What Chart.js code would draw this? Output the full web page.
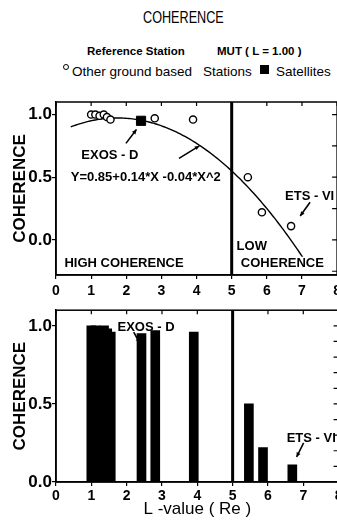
<!DOCTYPE html>
<html>
<head>
<meta charset="utf-8">
<title>Coherence</title>
<script src="https://cdn.jsdelivr.net/npm/chart.js@4.4.1/dist/chart.umd.min.js"></script>
<style>
  html, body { margin: 0; padding: 0; background: #fff; }
  body {
    position: relative; width: 337px; height: 522px; overflow: hidden;
    font-family: 'Liberation Sans', Arial, Helvetica, sans-serif; color: #000;
  }
  .txt { position: absolute; white-space: nowrap; line-height: 1; }
  #title { left: 143px; top: 10px; font-size: 16px; transform: scaleX(0.79); transform-origin: left top; }
  .ref { top: 46px; font-size: 11.5px; font-weight: bold; }
  .key { top: 65px; font-size: 13.5px; }
  .dot { position: absolute; left: 63px; top: 64px; width: 4px; height: 4px; border: 1.3px solid #000; border-radius: 50%; }
  .box { position: absolute; left: 260px; top: 65px; width: 9px; height: 9px; background: #000; }
  canvas { position: absolute; left: 0; }
  #topChart { top: 0; }
  #bottomChart { top: 300px; }
</style>
</head>
<body>
<div class="txt" id="title">COHERENCE</div>
<div class="txt ref" style="left:87px">Reference Station</div>
<div class="txt ref" style="left:217px">MUT ( L = 1.00 )</div>
<span class="dot"></span>
<div class="txt key" style="left:72px">Other ground based</div>
<div class="txt key" style="left:203px">Stations</div>
<span class="box"></span>
<div class="txt key" style="left:276px">Satellites</div>

<canvas id="topChart" width="345" height="300"></canvas>
<canvas id="bottomChart" width="345" height="222"></canvas>

<script>
// ground stations: L-value and coherence with MUT (L = 1.00)
const GROUND_L = [1.00, 1.12, 1.24, 1.36, 1.45, 1.55, 2.81, 3.90, 5.46, 5.86, 6.69];
const GROUND_COH = [1.00, 1.00, 0.99, 1.00, 0.98, 0.96, 0.97, 0.96, 0.50, 0.22, 0.11];

// satellite (EXOS-D)
const SAT_L = [2.42];
const SAT_COH = [0.95];

// printed quadratic fit: Y = 0.85 + 0.14*X - 0.04*X^2
const FIT_COEFFS = [0.85, 0.14, -0.04];
const FIT_RANGE = [0.42, 7.25];

// high / low coherence boundary
const BOUNDARY_L = 5;

const X_TICKS = [0, 1, 2, 3, 4, 5, 6, 7, 8];
const Y_TICKS = [0, 0.5, 1.0];
const TOP_RIGHT_TICKS = [-0.25, 0, 0.25, 0.5, 0.75, 1.0];
const BOTTOM_RIGHT_TICKS = [0.1, 0.2, 0.3, 0.4, 0.5, 0.6, 0.7, 0.8, 0.9, 1.0];

const FAMILY = "'Liberation Sans', Arial, Helvetica, sans-serif";
const NOTE_FONT = `bold 13px ${FAMILY}`;

const fitPoints = [];
for (let i = 0; ; i++) {
  const x = FIT_RANGE[0] + i * 0.05;
  if (x > FIT_RANGE[1]) break;
  fitPoints.push({ x, y: FIT_COEFFS[0] + FIT_COEFFS[1] * x + FIT_COEFFS[2] * x * x });
}

const groundPoints = GROUND_L.map((x, i) => ({ x, y: GROUND_COH[i] }));
const satPoints = SAT_L.map((x, i) => ({ x, y: SAT_COH[i] }));

// box round the plot area, with short inward ticks on the top and right edges
const framePlugin = {
  id: 'frame',
  afterDraw(chart, args, opts) {
    const { ctx, chartArea: a, scales: { x, y } } = chart;
    ctx.save();
    ctx.strokeStyle = '#000';
    ctx.lineWidth = 1.5;
    ctx.strokeRect(a.left, a.top, a.right - a.left, a.bottom - a.top);
    ctx.lineWidth = 1.2;
    ctx.beginPath();
    for (const v of X_TICKS) {
      const px = x.getPixelForValue(v);
      ctx.moveTo(px, a.top);
      ctx.lineTo(px, a.top + 4);
    }
    for (const v of opts.rightTicks || []) {
      const py = y.getPixelForValue(v);
      ctx.moveTo(a.right, py);
      ctx.lineTo(a.right - 5, py);
    }
    ctx.stroke();
    ctx.restore();
  },
};

// free text and arrows, placed in data coordinates
const notesPlugin = {
  id: 'notes',
  afterDatasetsDraw(chart, args, opts) {
    const { ctx, scales: { x, y } } = chart;
    ctx.save();
    ctx.fillStyle = '#000';
    ctx.strokeStyle = '#000';
    ctx.font = NOTE_FONT;
    ctx.textBaseline = 'middle';
    ctx.textAlign = 'left';
    for (const t of opts.texts || []) {
      const px = x.getPixelForValue(t.at[0]);
      const py = y.getPixelForValue(t.at[1]);
      if (t.knockout) {
        // white patch so the fit line runs under the label
        ctx.fillStyle = '#fff';
        ctx.fillRect(px - 1, py - 7, ctx.measureText(t.text).width + 2, 14);
        ctx.fillStyle = '#000';
      }
      ctx.fillText(t.text, px, py);
    }
    ctx.lineWidth = 1.6;
    for (const ar of opts.arrows || []) {
      const x0 = x.getPixelForValue(ar.from[0]), y0 = y.getPixelForValue(ar.from[1]);
      const x1 = x.getPixelForValue(ar.to[0]), y1 = y.getPixelForValue(ar.to[1]);
      const ang = Math.atan2(y1 - y0, x1 - x0);
      ctx.beginPath();
      ctx.moveTo(x0, y0);
      ctx.lineTo(x1, y1);
      ctx.stroke();
      ctx.beginPath();
      ctx.moveTo(x1, y1);
      ctx.lineTo(x1 - 5 * Math.cos(ang - 0.45), y1 - 5 * Math.sin(ang - 0.45));
      ctx.lineTo(x1 - 5 * Math.cos(ang + 0.45), y1 - 5 * Math.sin(ang + 0.45));
      ctx.closePath();
      ctx.fill();
    }
    ctx.restore();
  },
};

function xScale(height, title) {
  return {
    type: 'linear',
    min: 0,
    max: 8,
    offset: false,
    afterBuildTicks: (s) => { s.ticks = X_TICKS.map((value) => ({ value })); },
    afterFit: (s) => { s.height = height; },
    grid: { offset: false, drawOnChartArea: false, tickLength: 4, color: '#000', lineWidth: 1.2 },
    border: { color: '#000', width: 1.5 },
    ticks: {
      color: '#000',
      padding: title ? 2 : 4,
      maxRotation: 0,
      font: { family: FAMILY, size: 14, weight: 'bold' },
      callback: (v) => String(v),
    },
    title: title
      ? { display: true, text: title, color: '#000', padding: { top: 0, bottom: 2 },
          font: { family: FAMILY, size: 17 } }
      : { display: false },
  };
}

function yScale(min, max) {
  return {
    min,
    max,
    afterBuildTicks: (s) => { s.ticks = Y_TICKS.map((value) => ({ value })); },
    afterFit: (s) => { s.width = 56; },
    grid: { drawOnChartArea: false, tickLength: 4, color: '#000', lineWidth: 1.2 },
    border: { color: '#000', width: 1.5 },
    ticks: {
      color: '#000',
      padding: 0,
      font: { family: FAMILY, size: 17, weight: 'bold' },
      callback: (v) => v.toFixed(1),
    },
    title: {
      display: true,
      text: 'COHERENCE',
      color: '#000',
      padding: { top: 10, bottom: 0 },
      font: { family: FAMILY, size: 17, weight: 'bold' },
    },
  };
}

const common = {
  responsive: false,
  animation: false,
  events: [],
};

new Chart(document.getElementById('topChart'), {
  type: 'scatter',
  data: {
    datasets: [
      {
        label: 'Other ground based Stations',
        data: groundPoints,
        pointStyle: 'circle',
        pointRadius: 3.6,
        pointBorderWidth: 1.4,
        pointBackgroundColor: '#fff',
        pointBorderColor: '#000',
      },
      {
        label: 'Satellites',
        data: satPoints,
        pointStyle: 'rect',
        pointRadius: 6.5,
        pointBackgroundColor: '#000',
        pointBorderColor: '#000',
      },
      {
        label: 'Fit',
        data: fitPoints,
        showLine: true,
        borderColor: '#000',
        borderWidth: 1.4,
        pointRadius: 0,
      },
      {
        label: 'Boundary',
        data: [{ x: BOUNDARY_L, y: -0.28 }, { x: BOUNDARY_L, y: 1.1 }],
        showLine: true,
        borderColor: '#000',
        borderWidth: 3,
        pointRadius: 0,
      },
    ],
  },
  options: {
    ...common,
    layout: { padding: { top: 102, right: 6.4, bottom: 0, left: 0 } },
    plugins: {
      legend: { display: false },
      tooltip: { enabled: false },
      frame: { rightTicks: TOP_RIGHT_TICKS },
      notes: {
        texts: [
          { text: 'EXOS - D', at: [0.72, 0.67] },
          { text: 'Y=0.85+0.14*X -0.04*X^2', at: [0.42, 0.5] },
          { text: 'ETS - VI', at: [6.52, 0.35] },
          { text: 'HIGH COHERENCE', at: [0.24, -0.19] },
          { text: 'LOW', at: [5.14, -0.05] },
          { text: 'COHERENCE', at: [5.26, -0.19], knockout: true },
        ],
        arrows: [
          { from: [1.99, 0.77], to: [2.29, 0.88] },
          { from: [3.5, 0.65], to: [4.08, 0.75] },
          { from: [7.23, 0.3], to: [6.95, 0.19] },
        ],
      },
    },
    scales: {
      x: xScale(25),
      y: yScale(-0.28, 1.1),
    },
  },
  plugins: [framePlugin, notesPlugin],
});

new Chart(document.getElementById('bottomChart'), {
  type: 'bar',
  data: {
    datasets: [
      {
        label: 'Coherence',
        data: [...groundPoints, ...satPoints],
        backgroundColor: '#000',
        barThickness: 9,
      },
      {
        type: 'line',
        label: 'Boundary',
        data: [{ x: BOUNDARY_L, y: 0 }, { x: BOUNDARY_L, y: 1.1 }],
        borderColor: '#000',
        borderWidth: 3,
        pointRadius: 0,
      },
    ],
  },
  options: {
    ...common,
    layout: { padding: { top: 2, right: 6.4, bottom: 0, left: 0 } },
    plugins: {
      legend: { display: false },
      tooltip: { enabled: false },
      frame: { rightTicks: BOTTOM_RIGHT_TICKS },
      notes: {
        texts: [
          { text: 'EXOS - D', at: [1.74, 0.99] },
          { text: 'ETS - VI', at: [6.53, 0.28] },
        ],
        arrows: [
          { from: [2.2, 0.96], to: [2.37, 0.89] },
          { from: [7.01, 0.25], to: [6.81, 0.16] },
        ],
      },
    },
    scales: {
      x: xScale(40, 'L -value ( Re )'),
      y: yScale(0, 1.1),
    },
  },
  plugins: [framePlugin, notesPlugin],
});
</script>
</body>
</html>
